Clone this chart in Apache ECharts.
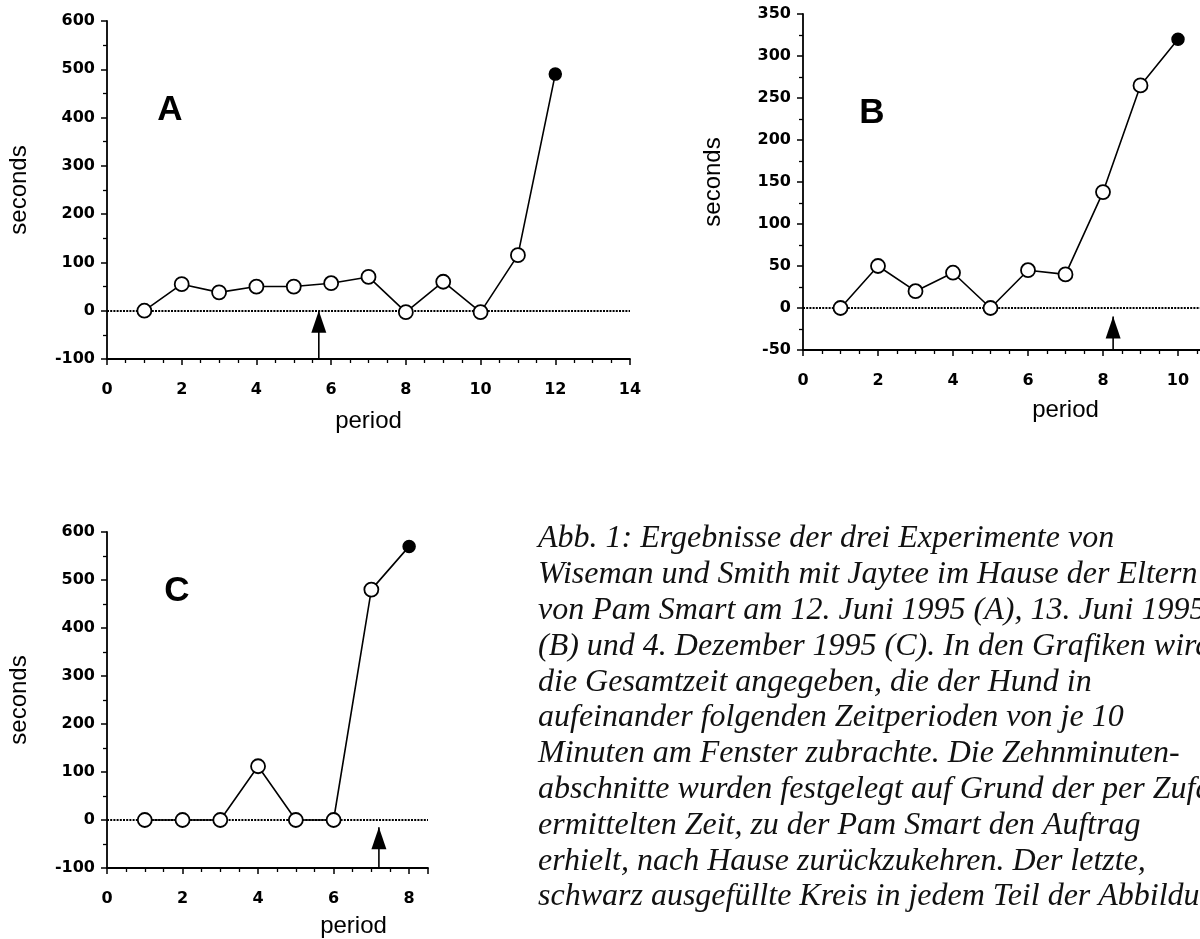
<!DOCTYPE html>
<html><head><meta charset="utf-8">
<script src="https://cdn.jsdelivr.net/npm/echarts@6/dist/echarts.min.js"></script>
<style>html,body{margin:0;padding:0;background:#fff}#c{width:1200px;height:939px}</style>
</head><body><div id="c"></div><script>
// ---- data ----
const periodsA = [1,2,3,4,5,6,7,8,9,10,11,12];
const secondsA = [0,55,38,50,50,57,70,-3,60,-3,115,490];
const periodsB = [1,2,3,4,5,6,7,8,9,10];
const secondsB = [0,50,20,42,0,45,40,138,265,320];
const periodsC = [1,2,3,4,5,6,7,8];
const secondsC = [0,0,0,112,0,0,480,570];
const arrowPeriod = [5.67, 8.27, 7.2];   // A, B, C: moment of the call
const arrowTip = [0, -10, -15];
const panelLabels = ['A','B','C'];
const yAxisName = 'seconds';
const xAxisName = 'period';
const yRangeA = [-100, 600, 100];
const yRangeB = [-50, 350, 50];
const yRangeC = [-100, 600, 100];
const xRangeA = [0, 14, 2];
const xRangeB = [0, 14, 2];
const xRangeC = [0, 8.5, 2];
const captionLines = [
  'Abb. 1: Ergebnisse der drei Experimente von',
  'Wiseman und Smith mit Jaytee im Hause der Eltern',
  'von Pam Smart am 12. Juni 1995 (A), 13. Juni 1995',
  '(B) und 4. Dezember 1995 (C). In den Grafiken wird',
  'die Gesamtzeit angegeben, die der Hund in',
  'aufeinander folgenden Zeitperioden von je 10',
  'Minuten am Fenster zubrachte. Die Zehnminuten-',
  'abschnitte wurden festgelegt auf Grund der per Zufall',
  'ermittelten Zeit, zu der Pam Smart den Auftrag',
  'erhielt, nach Hause zurückzukehren. Der letzte,',
  'schwarz ausgefüllte Kreis in jedem Teil der Abbildung'
];

// ---- layout ----
const grids = [
  {left:107, top:21, width:523, height:338},
  {left:803, top:14, width:525, height:336},
  {left:107, top:532, width:321, height:336}
];
const periods = [periodsA, periodsB, periodsC];
const seconds = [secondsA, secondsB, secondsC];
const yRanges = [yRangeA, yRangeB, yRangeC];
const xRanges = [xRangeA, xRangeB, xRangeC];
const labelPos = [[170,110],[872,113],[177,591]];
const yNameGap = [76, 78, 76];
const xNamePad = [[0,0,0,0],[0,0,0,0],[0,0,0,172]];
const xNameGap = [50, 48, 46];

const tickFont = {color:'#000', fontFamily:'DejaVu Sans', fontWeight:'bold', fontSize:16};
const nameFont = {color:'#000', fontFamily:'Liberation Sans', fontSize:24};

const option = {
  backgroundColor:'#fff',
  animation:false,
  grid: grids.map(g => Object.assign({outerBoundsMode:'none', containLabel:false}, g)),
  xAxis: xRanges.map((r,i) => ({
    type:'value', gridIndex:i, min:r[0], max:r[1], interval:r[2],
    name:xAxisName, nameLocation:'middle', nameGap:xNameGap[i],
    nameTextStyle:Object.assign({padding:xNamePad[i]}, nameFont),
    axisLine:{show:true, onZero:false, lineStyle:{color:'#000', width:1.8}},
    axisTick:{show:true, length:6, lineStyle:{color:'#000', width:1.5}},
    minorTick:{show:true, splitNumber:4, length:4, lineStyle:{color:'#000', width:1.3}},
    axisLabel:Object.assign({margin:23, showMaxLabel: i!==2}, tickFont),
    splitLine:{show:false}, minorSplitLine:{show:false}
  })),
  yAxis: yRanges.map((r,i) => ({
    type:'value', gridIndex:i, min:r[0], max:r[1], interval:r[2],
    name:yAxisName, nameLocation:'middle', nameGap:yNameGap[i],
    nameTextStyle:nameFont,
    axisLine:{show:true, onZero:false, lineStyle:{color:'#000', width:1.8}},
    axisTick:{show:true, length:6, lineStyle:{color:'#000', width:1.5}},
    minorTick:{show:true, splitNumber:2, length:4, lineStyle:{color:'#000', width:1.3}},
    axisLabel:Object.assign({margin:12}, tickFont),
    splitLine:{show:false}, minorSplitLine:{show:false}
  })),
  series: [],
  graphic: []
};

periods.forEach((p,i) => {
  const s = seconds[i];
  const data = p.map((x,k) => {
    const last = k === p.length - 1;
    return last
      ? {value:[x, s[k]], symbolSize:12, itemStyle:{color:'#000', borderColor:'#000', borderWidth:1.5}}
      : {value:[x, s[k]]};
  });
  option.series.push({
    type:'line', xAxisIndex:i, yAxisIndex:i, data:data,
    symbol:'circle', symbolSize:14, showAllSymbol:true,
    lineStyle:{color:'#000', width:1.6},
    itemStyle:{color:'#fff', borderColor:'#000', borderWidth:1.8},
    z:5,
    markLine:{silent:true, symbol:'none', label:{show:false}, animation:false,
      lineStyle:{type:[2,1.2], color:'#000', width:1.8},
      data:[{yAxis:0}]}
  });
  option.series.push({
    type:'line', xAxisIndex:i, yAxisIndex:i, z:4,
    lineStyle:{color:'#000', width:1.6},
    itemStyle:{color:'#000'},
    data:[
      {value:[arrowPeriod[i], yRanges[i][0]], symbol:'none'},
      {value:[arrowPeriod[i], arrowTip[i]], symbol:'triangle', symbolSize:[15,22], symbolOffset:[0,11]}
    ]
  });
  option.graphic.push({
    type:'text', x:labelPos[i][0], y:labelPos[i][1],
    style:{text:panelLabels[i], fill:'#000', fontFamily:'Liberation Sans', fontWeight:'bold', fontSize:35,
      textAlign:'center', textVerticalAlign:'middle'}
  });
});

option.graphic.push({
  type:'text', x:538, y:521,
  style:{text:captionLines.join('\n'), fill:'#111', fontFamily:'Liberation Serif', fontStyle:'italic',
    fontSize:32, lineHeight:35.8, textAlign:'left', textVerticalAlign:'top'}
});

const chart = echarts.init(document.getElementById('c'), null, {renderer:'canvas'});
chart.setOption(option);
</script></body></html>
